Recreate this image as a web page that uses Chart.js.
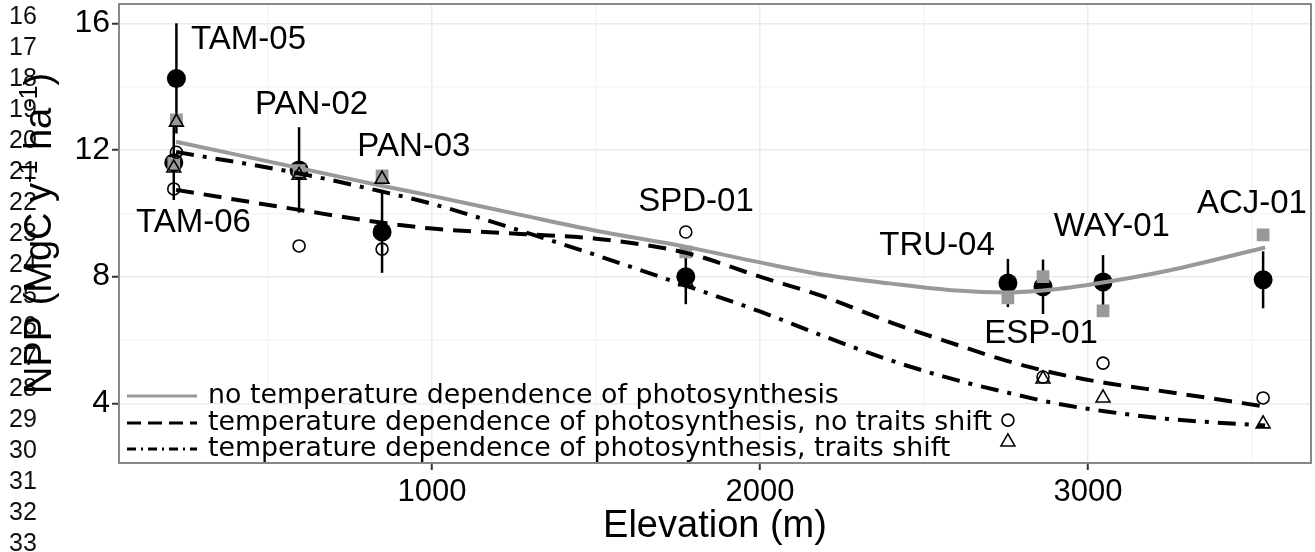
<!DOCTYPE html>
<html>
<head>
<meta charset="utf-8">
<script src="https://cdn.jsdelivr.net/npm/chart.js@4.4.1/dist/chart.umd.min.js"></script>
<style>
  body { margin: 0; background: #fff; }
  canvas { display: block; }
</style>
</head>
<body>
<canvas id="chart" width="1315" height="552"></canvas>
<script>
// sites along the elevation transect
var sites = ['TAM-05', 'TAM-06', 'PAN-02', 'PAN-03', 'SPD-01', 'TRU-04', 'ESP-01', 'WAY-01', 'ACJ-01'];
var elevation = [221, 213, 595, 848, 1774, 2756, 2863, 3046, 3534];

// observed NPP and error
var nppObs = [14.26, 11.6, 11.37, 9.41, 8.0, 7.8, 7.68, 7.83, 7.9];
var nppErr = [1.74, 1.18, 1.35, 1.29, 0.87, 0.76, 0.86, 0.85, 0.9];

// modelled NPP per site
var nppNoTemp = [12.95, 11.58, 11.35, 11.18, 8.78, 7.33, 8.0, 6.92, 9.32];
var nppNoShift = [11.93, 10.77, 8.97, 8.87, 9.41, 3.47, 4.83, 5.27, 4.17];
var nppShift = [12.88, 11.43, 11.2, 11.08, 7.84, 2.78, 4.77, 4.17, 3.35];

// fitted curves
var fitElev = [220, 600, 850, 1000, 1270, 1500, 1775, 2000, 2200, 2400, 2600, 2750, 2900, 3050, 3250, 3540];
var fitNoTemp = [12.26, 11.42, 10.86, 10.55, 9.95, 9.45, 8.94, 8.45, 8.05, 7.78, 7.56, 7.5, 7.6, 7.82, 8.2, 8.92];
var fitNoShift = [10.74, 10.1, 9.7, 9.52, 9.35, 9.2, 8.75, 8.0, 7.35, 6.55, 5.85, 5.35, 4.95, 4.65, 4.35, 3.9];
var fitShift = [11.94, 11.25, 10.68, 10.3, 9.45, 8.68, 7.71, 6.9, 6.1, 5.35, 4.73, 4.35, 4.0, 3.75, 3.5, 3.3];

var legendLabels = [
  'no temperature dependence of photosynthesis',
  'temperature dependence of photosynthesis, no traits shift',
  'temperature dependence of photosynthesis, traits shift'
];

// label anchor per site (elevation, npp)
var labelElev = [441, 273, 633, 945, 1805, 2540, 2857, 3073, 3500];
var labelNpp = [15.47, 9.71, 13.43, 12.11, 10.37, 8.98, 6.2, 9.58, 10.29];

var xTicks = [500, 1000, 1500, 2000, 2500, 3000, 3500];
var yTicks = [4, 6, 8, 10, 12, 14, 16];

var lineNumbers = [];
for (var n = 16; n <= 33; n++) lineNumbers.push(n);

var ARIAL = '"Liberation Sans", Arial, sans-serif';
var DEJAVU = '"DejaVu Sans", sans-serif';
var GREY = '#999999';

function pts(xs, ys) {
  return xs.map(function (x, i) { return { x: x, y: ys[i] }; });
}

var extras = {
  id: 'extras',
  beforeDatasetsDraw: function (chart) {
    var ctx = chart.ctx, xs = chart.scales.x, ys = chart.scales.y;
    ctx.save();
    ctx.strokeStyle = '#000';
    ctx.lineWidth = 2.5;
    for (var i = 0; i < elevation.length; i++) {
      var px = xs.getPixelForValue(elevation[i]);
      ctx.beginPath();
      ctx.moveTo(px, ys.getPixelForValue(nppObs[i] + nppErr[i]));
      ctx.lineTo(px, ys.getPixelForValue(nppObs[i] - nppErr[i]));
      ctx.stroke();
    }
    ctx.restore();
  },
  afterDatasetsDraw: function (chart) {
    var ctx = chart.ctx, xs = chart.scales.x, ys = chart.scales.y;
    ctx.save();
    // site labels
    ctx.fillStyle = '#000';
    ctx.font = '33px ' + ARIAL;
    ctx.textAlign = 'center';
    ctx.textBaseline = 'middle';
    for (var i = 0; i < sites.length; i++) {
      ctx.fillText(sites[i], xs.getPixelForValue(labelElev[i]), ys.getPixelForValue(labelNpp[i]));
    }
    // legend (bottom left, inside panel)
    var rows = [396, 423, 449];
    var lineDs = [chart.data.datasets[2], chart.data.datasets[3], chart.data.datasets[4]];
    var dashes = [[], [14, 7], [9, 5, 2, 5]];
    ctx.textAlign = 'left';
    ctx.font = '26.8px ' + DEJAVU;
    for (var r = 0; r < 3; r++) {
      ctx.beginPath();
      ctx.strokeStyle = lineDs[r].borderColor;
      ctx.lineWidth = 3;
      ctx.setLineDash(dashes[r]);
      ctx.moveTo(127, rows[r]);
      ctx.lineTo(197, rows[r]);
      ctx.stroke();
      ctx.setLineDash([]);
      ctx.fillText(legendLabels[r], 208, rows[r]);
    }
    ctx.restore();
  },
  afterDraw: function (chart) {
    var ctx = chart.ctx, a = chart.chartArea;
    ctx.save();
    // panel border
    ctx.strokeStyle = '#888';
    ctx.lineWidth = 2;
    ctx.strokeRect(a.left, a.top, a.right - a.left, a.bottom - a.top);

    // manuscript line numbers on the far left
    ctx.fillStyle = '#111';
    ctx.font = '25px ' + ARIAL;
    ctx.textAlign = 'left';
    ctx.textBaseline = 'middle';
    for (var i = 0; i < lineNumbers.length; i++) {
      ctx.fillText(String(lineNumbers[i]), 9, 17 + 31 * i);
    }

    // x title
    ctx.fillStyle = '#000';
    ctx.font = '38px ' + ARIAL;
    ctx.textAlign = 'center';
    ctx.textBaseline = 'middle';
    ctx.fillText('Elevation (m)', (a.left + a.right) / 2, 527);

    // y title with superscripts
    var parts = [['NPP (MgC y', 0], ['-1', 1], [' ha', 0], ['-1', 1], [')', 0]];
    var big = '38px ' + ARIAL, small = '25px ' + ARIAL;
    var total = 0;
    parts.forEach(function (p) {
      ctx.font = p[1] ? small : big;
      total += ctx.measureText(p[0]).width;
    });
    ctx.translate(51, (a.top + a.bottom) / 2);
    ctx.rotate(-Math.PI / 2);
    ctx.textAlign = 'left';
    ctx.textBaseline = 'alphabetic';
    var u = -total / 2;
    parts.forEach(function (p) {
      ctx.font = p[1] ? small : big;
      ctx.fillText(p[0], u, p[1] ? -14 : 0);
      u += ctx.measureText(p[0]).width;
    });
    ctx.restore();
  }
};

function gridColor(c) {
  if (!c.tick) return 'transparent';
  return c.tick.value % (c.scale.axis === 'x' ? 1000 : 4) === 0 ? '#ebebeb' : '#f5f5f5';
}
function tickColor(c) {
  if (!c.tick) return 'transparent';
  return c.tick.value % (c.scale.axis === 'x' ? 1000 : 4) === 0 ? '#333' : 'transparent';
}

new Chart(document.getElementById('chart'), {
  type: 'scatter',
  data: {
    datasets: [
      {
        label: 'traits shift',
        data: pts(elevation, nppShift),
        pointStyle: 'triangle',
        pointRadius: 8,
        backgroundColor: 'rgba(0,0,0,0)',
        borderColor: '#000',
        borderWidth: 1.6
      },
      {
        label: 'no traits shift',
        data: pts(elevation, nppNoShift),
        pointStyle: 'circle',
        pointRadius: 6,
        backgroundColor: 'rgba(0,0,0,0)',
        borderColor: '#000',
        borderWidth: 1.6
      },
      {
        label: legendLabels[0],
        data: pts(fitElev, fitNoTemp),
        showLine: true,
        pointRadius: 0,
        borderColor: GREY,
        borderWidth: 4,
        cubicInterpolationMode: 'monotone'
      },
      {
        label: legendLabels[1],
        data: pts(fitElev, fitNoShift),
        showLine: true,
        pointRadius: 0,
        borderColor: '#000',
        borderWidth: 4,
        borderDash: [18, 10],
        cubicInterpolationMode: 'monotone'
      },
      {
        label: legendLabels[2],
        data: pts(fitElev, fitShift),
        showLine: true,
        pointRadius: 0,
        borderColor: '#000',
        borderWidth: 4,
        borderDash: [18, 9, 4, 9],
        cubicInterpolationMode: 'monotone'
      },
      {
        label: 'no temperature dependence',
        data: pts(elevation, nppNoTemp),
        pointStyle: 'rect',
        pointRadius: 9,
        backgroundColor: GREY,
        borderWidth: 0
      },
      {
        label: 'observed',
        data: pts(elevation, nppObs),
        pointStyle: 'circle',
        pointRadius: 9.5,
        backgroundColor: '#000',
        borderWidth: 0
      }
    ]
  },
  options: {
    responsive: false,
    animation: false,
    devicePixelRatio: 1,
    events: [],
    layout: { autoPadding: false, padding: { top: 4, right: 4, left: 0, bottom: 0 } },
    plugins: { legend: { display: false }, tooltip: { enabled: false } },
    scales: {
      x: {
        type: 'linear',
        min: 46,
        max: 3680,
        afterBuildTicks: function (s) { s.ticks = xTicks.map(function (v) { return { value: v }; }); },
        afterFit: function (s) { s.height = 89; s.paddingLeft = 0; s.paddingRight = 0; },
        ticks: {
          autoSkip: false,
          maxRotation: 0,
          padding: 4,
          color: '#000',
          font: { family: ARIAL, size: 31 },
          callback: function (v) { return v % 1000 === 0 ? String(v) : ''; }
        },
        grid: { color: gridColor, lineWidth: 1.5, tickColor: tickColor, tickLength: 7, tickWidth: 2 },
        border: { display: false }
      },
      y: {
        type: 'linear',
        min: 2.115,
        max: 16.61,
        afterBuildTicks: function (s) { s.ticks = yTicks.map(function (v) { return { value: v }; }); },
        afterFit: function (s) { s.width = 119; s.paddingTop = 0; s.paddingBottom = 0; },
        ticks: {
          autoSkip: false,
          padding: 2,
          color: '#000',
          font: { family: ARIAL, size: 32 },
          callback: function (v) { return v % 4 === 0 ? String(v) : ''; }
        },
        grid: { color: gridColor, lineWidth: 1.5, tickColor: tickColor, tickLength: 7, tickWidth: 2 },
        border: { display: false }
      }
    }
  },
  plugins: [extras]
});
</script>
</body>
</html>
